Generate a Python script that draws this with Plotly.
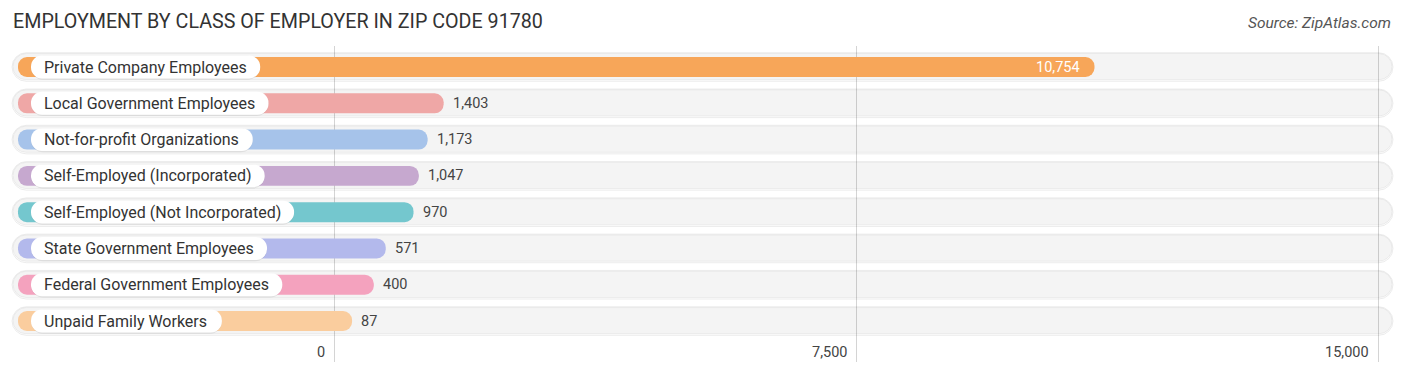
import plotly.graph_objects as go

# ---- data ----
categories = [
    "Private Company Employees",
    "Local Government Employees",
    "Not-for-profit Organizations",
    "Self-Employed (Incorporated)",
    "Self-Employed (Not Incorporated)",
    "State Government Employees",
    "Federal Government Employees",
    "Unpaid Family Workers",
]
values = [10754, 1403, 1173, 1047, 970, 571, 400, 87]
value_labels = ["10,754", "1,403", "1,173", "1,047", "970", "571", "400", "87"]
bar_colors = ["#F7A659", "#EFA7A6", "#A6C3EA", "#C6A8CF", "#74C7CE", "#B3B9EC", "#F4A2BE", "#FACD9E"]
tick_vals = [0, 7500, 15000]
tick_text = ["0", "7,500", "15,000"]

# ---- layout geometry ----
W, H = 1406, 376
PX_ZERO = 334.0
PX_PER_UNIT = 1044.0 / 15000.0
ROW0, PITCH = 67.0, 36.29
PLOT_TOP, PLOT_BOT = 46, 362


def px2v(px):
    return (px - PX_ZERO) / PX_PER_UNIT


def py2y(py):
    return (py - ROW0) / PITCH


# approximate Roboto advance widths (units per em 2048)
_W = {' ': 507, '(': 684, ')': 696, '-': 552, ',': 393,
      'A': 1336, 'B': 1275, 'C': 1333, 'D': 1343, 'E': 1164, 'F': 1132, 'G': 1395, 'H': 1460,
      'I': 557, 'J': 1130, 'K': 1284, 'L': 1102, 'M': 1788, 'N': 1460, 'O': 1408, 'P': 1292,
      'Q': 1408, 'R': 1261, 'S': 1217, 'T': 1222, 'U': 1328, 'V': 1303, 'W': 1817, 'X': 1284,
      'Y': 1230, 'Z': 1226,
      'a': 1088, 'b': 1122, 'c': 1045, 'd': 1127, 'e': 1058, 'f': 693, 'g': 1120, 'h': 1101,
      'i': 486, 'j': 478, 'k': 1014, 'l': 486, 'm': 1751, 'n': 1103, 'o': 1140, 'p': 1120,
      'q': 1133, 'r': 677, 's': 1055, 't': 655, 'u': 1102, 'v': 967, 'w': 1501, 'x': 991,
      'y': 946, 'z': 991}


def text_width(s, size):
    return sum(_W.get(c, 1100) for c in s) / 2048.0 * size


LABEL_FONT = 16
n = len(categories)
idx = list(range(n))

fig = go.Figure()

# background tracks
fig.add_trace(go.Bar(orientation="h", y=idx, x=[px2v(1393) - px2v(12)] * n, base=[px2v(12)] * n,
                     width=0.79,
                     marker=dict(color="rgba(0,0,0,0.012)", line=dict(color="rgba(0,0,0,0.07)", width=1),
                                 cornerradius=15),
                     hoverinfo="skip", showlegend=False))
fig.add_trace(go.Bar(orientation="h", y=idx, x=[px2v(1392) - px2v(13)] * n, base=[px2v(13)] * n,
                     width=0.72, offset=-0.37,
                     marker=dict(color="rgba(0,0,0,0.03)", line=dict(color="rgba(0,0,0,0.05)", width=1),
                                 cornerradius=13),
                     hoverinfo="skip", showlegend=False))

# value bars
cap = 12 / PX_PER_UNIT
left_v = px2v(18)
fig.add_trace(go.Bar(orientation="h", y=idx, x=[v + cap - left_v for v in values], base=[left_v] * n,
                     width=0.55, marker=dict(color=bar_colors, cornerradius=10, line=dict(width=0)),
                     hoverinfo="skip", showlegend=False))

# label pills (with a faint shadow)
pill_left = 31
pill_rights = [pill_left + text_width(c, LABEL_FONT) + 30 for c in categories]
fig.add_trace(go.Bar(orientation="h", y=idx, x=[px2v(r) - px2v(pill_left) for r in pill_rights],
                     base=[px2v(pill_left)] * n, width=0.66, offset=-0.31,
                     marker=dict(color="rgba(0,0,0,0.08)", cornerradius=12, line=dict(width=0)),
                     hoverinfo="skip", showlegend=False))
fig.add_trace(go.Bar(orientation="h", y=idx, x=[px2v(r) - px2v(pill_left) for r in pill_rights],
                     base=[px2v(pill_left)] * n, width=0.63,
                     marker=dict(color="white", cornerradius=11.5, line=dict(width=0)),
                     hoverinfo="skip", showlegend=False))

annotations = []
for i, c in enumerate(categories):
    annotations.append(dict(x=px2v(44), y=i, xref="x", yref="y", text=c, showarrow=False,
                            xanchor="left", yanchor="middle", xshift=-2,
                            font=dict(family="Roboto", size=LABEL_FONT, color="#333333")))

vmax = max(values)
for i, (v, t) in enumerate(zip(values, value_labels)):
    inside = v > 0.5 * vmax
    annotations.append(dict(x=v + cap, y=i, xref="x", yref="y", text=t, showarrow=False,
                            xanchor="right" if inside else "left", yanchor="middle",
                            xshift=-12 if inside else 7,
                            font=dict(family="Roboto", size=14.5,
                                      color="white" if inside else "#444444")))

for tv, tt in zip(tick_vals, tick_text):
    annotations.append(dict(x=tv, y=py2y(352), xref="x", yref="y", text=tt, showarrow=False,
                            xanchor="right", yanchor="middle", xshift=-7,
                            font=dict(family="Roboto", size=14.5, color="#444444")))

annotations.append(dict(x=1393 / W, y=(PLOT_BOT - 23) / (PLOT_BOT - PLOT_TOP), xref="paper", yref="paper",
                        text="<i>Source: ZipAtlas.com</i>",
                        showarrow=False, xanchor="right", yanchor="middle",
                        font=dict(family="Roboto", size=15.5, color="#555555")))

fig.update_layout(
    width=W, height=H,
    margin=dict(l=0, r=0, t=PLOT_TOP, b=H - PLOT_BOT, pad=0),
    paper_bgcolor="white", plot_bgcolor="white",
    barmode="overlay",
    showlegend=False,
    title=dict(text="EMPLOYMENT BY CLASS OF EMPLOYER IN ZIP CODE 91780",
               xref="container", yref="container", x=13 / W, xanchor="left",
               y=1 - 21 / H, yanchor="middle",
               font=dict(family="Roboto", size=19.7, color="#333333")),
    xaxis=dict(range=[px2v(0), px2v(W)], tickvals=tick_vals, showticklabels=False,
               showgrid=True, gridcolor="#d4d4d4", gridwidth=1, zeroline=False,
               showline=False, ticks="", fixedrange=True),
    yaxis=dict(range=[py2y(PLOT_BOT), py2y(PLOT_TOP)], showticklabels=False, showgrid=False,
               zeroline=False, showline=False, ticks="", fixedrange=True),
    annotations=annotations,
)

fig.write_html("out.html", config={"displayModeBar": False})
